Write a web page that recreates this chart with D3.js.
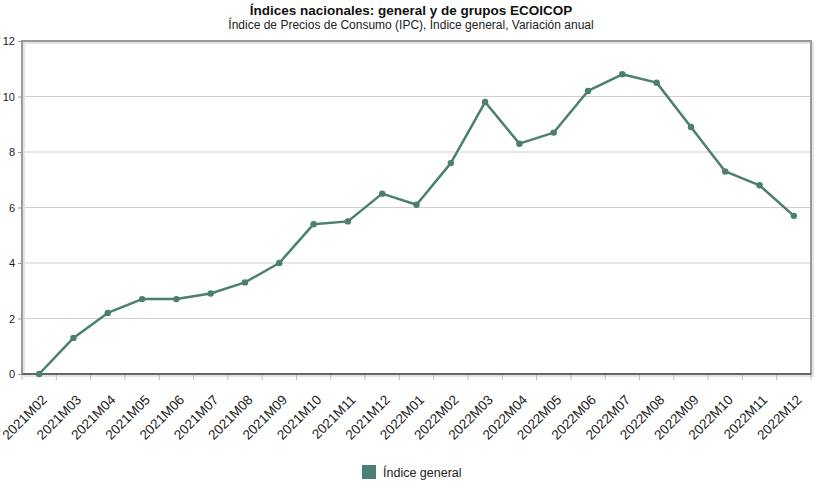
<!DOCTYPE html>
<html>
<head>
<meta charset="utf-8">
<script src="https://cdn.jsdelivr.net/npm/d3@7"></script>
<style>
  body { margin: 0; background: #fff; }
  text { font-family: "Liberation Sans", Arial, sans-serif; }
</style>
</head>
<body>
<div id="chart"></div>
<script>
var width = 821;
var height = 495;

// Data
var periods = ["2021M02", "2021M03", "2021M04", "2021M05", "2021M06", "2021M07", "2021M08",
    "2021M09", "2021M10", "2021M11", "2021M12", "2022M01", "2022M02", "2022M03", "2022M04",
    "2022M05", "2022M06", "2022M07", "2022M08", "2022M09", "2022M10", "2022M11", "2022M12"];
var values = [0.0, 1.3, 2.2, 2.7, 2.7, 2.9, 3.3, 4.0, 5.4, 5.5, 6.5, 6.1, 7.6, 9.8, 8.3,
    8.7, 10.2, 10.8, 10.5, 8.9, 7.3, 6.8, 5.7];
var yTicks = [0, 2, 4, 6, 8, 10, 12];
var seriesName = "Índice general";

var lineColor = "#4a7f71";
var margin = { top: 41, right: 10, bottom: 120, left: 22 };

var svg = d3.select("#chart")
    .append("svg")
    .attr("width", width)
    .attr("height", height);

// Titles
svg.append("text")
    .attr("x", 411).attr("y", 15)
    .attr("text-anchor", "middle")
    .attr("font-size", 13.5)
    .attr("font-weight", "bold")
    .attr("fill", "#111")
    .text("Índices nacionales: general y de grupos ECOICOP");
svg.append("text")
    .attr("x", 411).attr("y", 29)
    .attr("text-anchor", "middle")
    .attr("font-size", 12)
    .attr("fill", "#222")
    .text("Índice de Precios de Consumo (IPC), Índice general, Variación anual");

var x = d3.scaleBand()
    .domain(periods)
    .range([margin.left, 811]);

var y = d3.scaleLinear()
    .domain([0, 12])
    .range([374, margin.top]);

// Gridlines
svg.append("g")
    .selectAll("line")
    .data(yTicks.slice(1, -1))
    .enter()
    .append("line")
    .attr("x1", margin.left).attr("x2", 811)
    .attr("y1", function(d) { return y(d); })
    .attr("y2", function(d) { return y(d); })
    .attr("stroke", "#cfcfcf")
    .attr("stroke-width", 1);

// Frame with a light shadow
svg.append("rect")
    .attr("x", margin.left + 2).attr("y", margin.top + 2)
    .attr("width", 811 - margin.left).attr("height", 374 - margin.top)
    .attr("fill", "none")
    .attr("stroke", "#e4e4e4")
    .attr("stroke-width", 2);
svg.append("rect")
    .attr("x", margin.left).attr("y", margin.top)
    .attr("width", 811 - margin.left).attr("height", 374 - margin.top)
    .attr("fill", "none")
    .attr("stroke", "#9a9a9a")
    .attr("stroke-width", 2);

// Y axis labels
var yAxis = svg.append("g")
    .attr("transform", "translate(" + margin.left + ",0)")
    .call(d3.axisLeft(y).tickValues(yTicks).tickSize(4).tickFormat(d3.format("d")));
yAxis.select(".domain").remove();
yAxis.selectAll("line").attr("stroke", "#9a9a9a");
yAxis.selectAll("text").attr("font-size", 11).attr("fill", "#222")
    .attr("font-family", "Liberation Sans, Arial, sans-serif");

// X axis: ticks at band boundaries, labels at band centres
var xAxisG = svg.append("g")
    .attr("transform", "translate(0,374)");
xAxisG.append("line")
    .attr("x1", margin.left).attr("x2", 811)
    .attr("stroke", "#555").attr("stroke-width", 1.5);
xAxisG.selectAll("line.tick")
    .data(periods.concat(["end"]))
    .enter()
    .append("line")
    .attr("class", "tick")
    .attr("x1", function(d, i) { return margin.left + i * x.bandwidth(); })
    .attr("x2", function(d, i) { return margin.left + i * x.bandwidth(); })
    .attr("y1", 1).attr("y2", 6)
    .attr("stroke", "#bbb");
xAxisG.selectAll("text")
    .data(periods)
    .enter()
    .append("text")
    .attr("transform", function(d) {
        return "translate(" + (x(d) + x.bandwidth() / 2 + 2) + ",20) rotate(-45)";
    })
    .attr("text-anchor", "end")
    .attr("dy", "0.7em")
    .attr("font-size", 13.5)
    .attr("fill", "#222")
    .text(function(d) { return d; });

// Line
var line = d3.line()
    .x(function(d, i) { return x(periods[i]) + x.bandwidth() / 2; })
    .y(function(d) { return y(d); });

svg.append("path")
    .datum(values)
    .attr("d", line)
    .attr("fill", "none")
    .attr("stroke", lineColor)
    .attr("stroke-width", 2.5)
    .attr("stroke-linejoin", "round");

svg.append("g")
    .selectAll("circle")
    .data(values)
    .enter()
    .append("circle")
    .attr("cx", function(d, i) { return x(periods[i]) + x.bandwidth() / 2; })
    .attr("cy", function(d) { return y(d); })
    .attr("r", 3.2)
    .attr("fill", lineColor);

// Legend
svg.append("rect")
    .attr("x", 362).attr("y", 465)
    .attr("width", 14).attr("height", 14)
    .attr("fill", lineColor);
svg.append("text")
    .attr("x", 383).attr("y", 477)
    .attr("font-size", 12.5)
    .attr("fill", "#222")
    .text(seriesName);
</script>
</body>
</html>
